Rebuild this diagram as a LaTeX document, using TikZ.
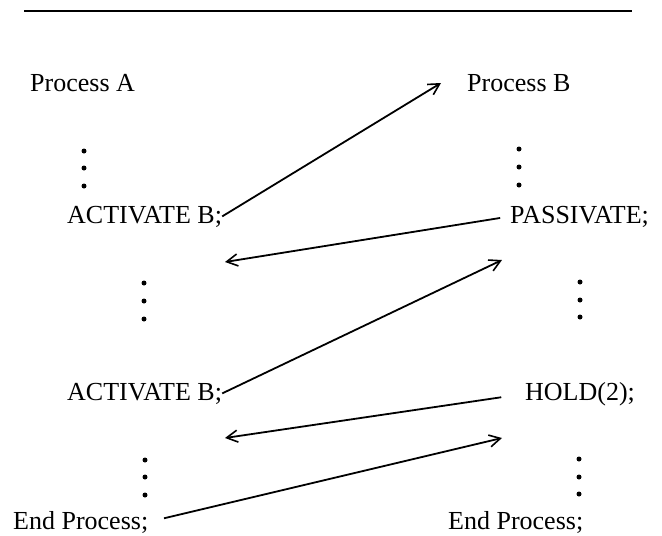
\documentclass[tikz,border=0pt]{standalone}
\usepackage{fontspec}
\setmainfont{Liberation Serif}
\usetikzlibrary{arrows.meta}
\begin{document}
\begin{tikzpicture}[x=1pt,y=-1pt,
  lbl/.style={anchor=base west,inner sep=0pt,font=\fontsize{26}{30}\selectfont},
  vdot/.style={circle,fill=black,inner sep=0pt,minimum size=5pt},
  msg/.style={line width=1.8pt,-{Straight Barb[length=11pt,width=12pt,line width=1.6pt]}}]
\useasboundingbox (0,0) rectangle (662,536);
% top rule
\coordinate (r1) at (24,11);
\coordinate (r2) at (632,11);
\draw[line width=1.8pt] (r1) -- (r2);
% labels
\node[lbl] (pA) at (30,91) {Process A};
\node[lbl] (pB) at (467,91) {Process B};
\node[lbl] (act1) at (67,223) {ACTIVATE B;};
\node[lbl] (pas) at (510,223) {PASSIVATE;};
\node[lbl] (act2) at (67,400) {ACTIVATE B;};
\node[lbl] (hold) at (525,400) {HOLD(2);};
\node[lbl] (endA) at (13,529) {End Process;};
\node[lbl] (endB) at (448,529) {End Process;};
% dots
\node[vdot] (lu1) at (84,151) {};
\node[vdot] (lu2) at (84,168) {};
\node[vdot] (lu3) at (84,186) {};
\node[vdot] (ru1) at (519,149) {};
\node[vdot] (ru2) at (519,167) {};
\node[vdot] (ru3) at (519,185) {};
\node[vdot] (lm1) at (144,283) {};
\node[vdot] (lm2) at (144,301) {};
\node[vdot] (lm3) at (144,319) {};
\node[vdot] (rm1) at (580,282) {};
\node[vdot] (rm2) at (580,300) {};
\node[vdot] (rm3) at (580,317) {};
\node[vdot] (ll1) at (145,460) {};
\node[vdot] (ll2) at (145,477) {};
\node[vdot] (ll3) at (145,495) {};
\node[vdot] (rl1) at (579,459) {};
\node[vdot] (rl2) at (579,477) {};
\node[vdot] (rl3) at (579,494) {};
% arrow ends
\coordinate (t1) at (441,83);
\coordinate (t2) at (225,262);
\coordinate (t3) at (502,260);
\coordinate (t4) at (225,438);
\coordinate (t5) at (502,438);
% messages
\draw[msg] (act1.east) -- (t1);
\draw[msg,shorten <=10pt] (pas.west) -- (t2);
\draw[msg] (act2.east) -- (t3);
\draw[msg,shorten <=24pt] (hold.west) -- (t4);
\draw[msg,shorten <=16pt] (endA.east) -- (t5);
\end{tikzpicture}
\end{document}
